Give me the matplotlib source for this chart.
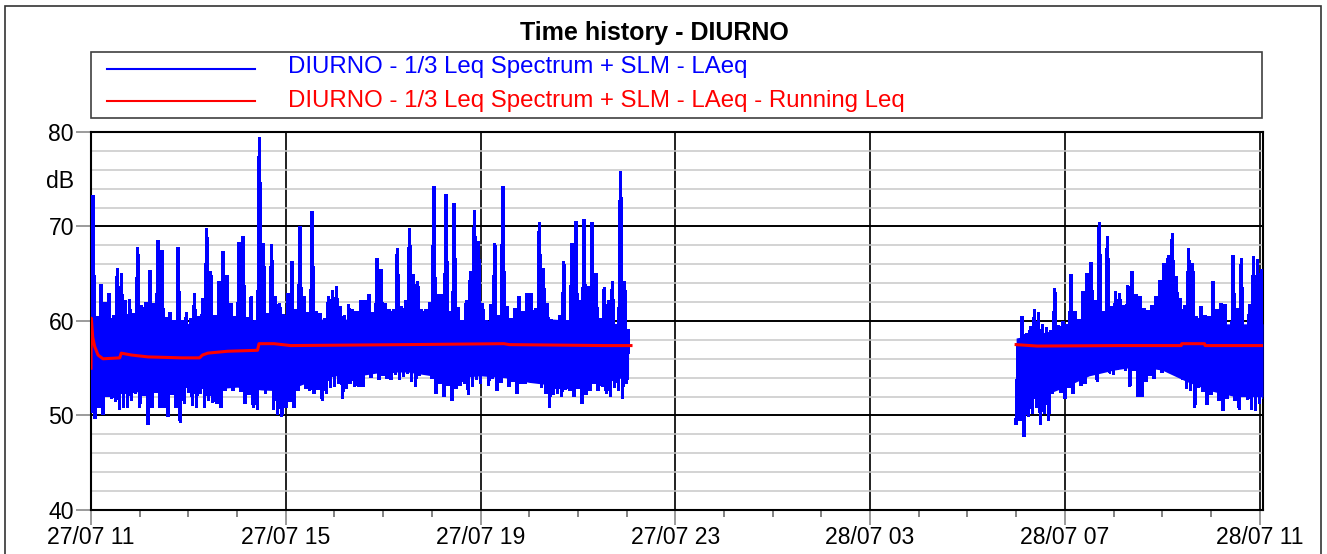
import numpy as np
import matplotlib
matplotlib.use('Agg')
import matplotlib.pyplot as plt
from matplotlib.ticker import MultipleLocator, FixedLocator
from matplotlib.patches import Rectangle
from matplotlib.lines import Line2D

plt.rcParams['font.family'] = ['Liberation Sans', 'DejaVu Sans']

# ---------------- data ----------------
title = 'Time history - DIURNO'
label_blue = 'DIURNO - 1/3 Leq Spectrum + SLM - LAeq'
label_red = 'DIURNO - 1/3 Leq Spectrum + SLM - LAeq - Running Leq'
x_tick_hours = [0, 4, 8, 12, 16, 20, 24]          # hours after 27/07 11:00
x_tick_labels = ['27/07 11', '27/07 15', '27/07 19', '27/07 23',
                 '28/07 03', '28/07 07', '28/07 11']
y_ticks = [40, 50, 60, 70, 80]

bin_hours = 5 / 60          # each LAeq bin: 5 minutes (min and max)
seg1_start = 0.0            # 27/07 11:00
seg2_start = 19.0           # 28/07 06:00

seg1_hi = [73.3, 60.5, 63.9, 62.0, 62.9, 60.6, 65.6, 65.0, 62.2, 62.3,
           60.8, 67.8, 61.6, 62.0, 65.3, 61.9, 68.5, 67.5, 60.4, 60.9,
           60.1, 67.8, 60.0, 60.9, 60.3, 62.9, 60.5, 62.4, 69.8, 65.2,
           60.6, 64.2, 67.3, 64.8, 61.9, 60.5, 68.3, 68.9, 60.4, 62.6,
           60.1, 79.4, 68.2, 60.8, 68.1, 62.6, 61.9, 60.7, 62.9, 66.3,
           61.2, 70.0, 62.6, 60.9, 71.6, 61.0, 60.8, 60.3, 62.6, 63.2,
           63.7, 61.5, 60.6, 61.7, 61.2, 61.0, 62.2, 62.2, 62.8, 60.9,
           66.6, 65.5, 61.9, 61.2, 61.2, 67.7, 61.5, 62.2, 69.8, 64.9,
           64.2, 61.2, 61.2, 62.0, 74.2, 62.8, 62.8, 73.4, 61.0, 72.4,
           61.4, 60.1, 62.2, 65.2, 71.7, 68.4, 61.9, 60.0, 61.7, 68.2,
           60.6, 74.2, 61.5, 60.3, 61.3, 62.6, 61.0, 62.9, 62.9, 61.3,
           70.4, 65.6, 61.9, 60.2, 59.0, 60.6, 66.3, 60.1, 68.2, 70.5,
           62.2, 70.7, 63.6, 70.4, 65.0, 60.3, 63.5, 62.2, 64.2, 59.6,
           75.8, 64.2, 59.0]
seg1_lo = [50.4, 49.7, 50.9, 50.1, 52.0, 51.8, 51.5, 50.6, 50.9, 50.8,
           51.6, 52.3, 50.9, 52.1, 49.0, 50.9, 52.4, 50.9, 50.8, 49.9,
           52.2, 50.8, 49.3, 51.3, 52.4, 51.1, 50.9, 52.3, 50.8, 51.6,
           51.4, 51.3, 50.8, 52.6, 53.0, 52.7, 53.2, 52.5, 51.3, 52.2,
           50.8, 50.6, 52.8, 52.3, 53.0, 50.6, 50.1, 49.9, 50.9, 51.5,
           50.8, 52.6, 53.4, 52.9, 52.7, 52.3, 52.8, 51.6, 52.3, 53.0,
           53.1, 53.4, 51.8, 52.9, 53.4, 53.1, 53.1, 53.1, 54.8, 54.0,
           54.8, 53.8, 54.2, 53.9, 53.8, 54.3, 53.8, 54.1, 54.4, 53.6,
           53.1, 54.2, 54.8, 54.8, 53.9, 52.3, 53.4, 52.0, 53.2, 51.6,
           52.9, 53.2, 53.4, 52.2, 53.1, 53.8, 53.4, 55.2, 53.2, 53.9,
           52.7, 53.5, 54.1, 53.1, 53.6, 52.3, 53.4, 53.4, 53.8, 53.8,
           53.9, 53.0, 52.3, 50.9, 52.2, 52.3, 52.0, 52.8, 52.7, 52.0,
           52.9, 51.3, 52.2, 52.6, 53.4, 52.7, 53.1, 52.3, 52.0, 53.0,
           52.7, 51.8, 53.4]

seg2_hi = [57.6, 60.5, 58.7, 59.4, 61.2, 60.9, 59.6, 59.3, 59.0, 63.4,
           59.5, 59.9, 59.6, 64.9, 61.0, 60.2, 63.1, 65.0, 66.2, 62.2,
           70.4, 61.0, 68.9, 61.5, 63.1, 62.9, 61.6, 63.8, 65.2, 62.8,
           62.6, 61.3, 61.1, 61.6, 62.6, 64.3, 66.1, 66.9, 69.3, 64.7,
           62.4, 61.6, 67.7, 66.1, 60.5, 61.5, 60.6, 60.5, 64.2, 61.2,
           61.9, 61.7, 58.9, 66.9, 61.3, 66.6, 59.3, 61.7, 66.8, 66.5,
           65.4, 62.0]
seg2_lo = [49.2, 49.5, 47.8, 49.9, 50.2, 50.9, 49.0, 50.2, 49.5, 52.3,
           53.0, 52.4, 51.8, 53.0, 52.3, 53.9, 53.2, 53.4, 54.6, 55.5,
           53.6, 55.0, 54.8, 54.5, 54.3, 54.9, 55.0, 54.8, 53.1, 54.8,
           52.0, 52.0, 53.6, 54.2, 53.9, 55.3, 54.6, 54.8, 55.0, 54.6,
           54.9, 53.8, 52.9, 52.7, 50.8, 53.0, 52.5, 51.2, 52.2, 52.6,
           51.6, 50.5, 51.8, 52.4, 51.6, 50.6, 52.0, 51.7, 50.6, 50.5,
           51.3, 51.8]

# dense core of the LAeq trace (half-hour readings of where the trace is solid)
core1_t = [0.0, 0.5, 1.0, 1.5, 2.0, 2.5, 3.0, 3.5, 4.0, 4.5, 5.0, 5.5,
           6.0, 6.5, 7.0, 7.5, 8.0, 8.5, 9.0, 9.5, 10.0, 10.5, 11.04]
core1_lo = [52.5, 52.6, 52.5, 52.8, 53.0, 52.8, 53.0, 52.7, 52.6, 53.6, 54.2, 54.2,
            54.6, 54.6, 54.2, 54.0, 54.2, 54.0, 53.5, 53.2, 53.5, 53.4, 54.2]
core1_hi = [59.2, 59.4, 59.5, 59.3, 59.7, 59.7, 60.0, 60.2, 60.0, 60.2, 60.2, 60.2,
            60.2, 60.4, 60.2, 60.0, 60.0, 60.2, 60.0, 60.2, 60.0, 59.7, 58.7]
core2_t = [19.0, 19.5, 20.0, 20.5, 21.0, 21.5, 22.0, 22.5, 23.0, 23.5, 24.0, 24.07]
core2_lo = [51.5, 52.0, 53.0, 54.2, 54.8, 55.2, 54.8, 53.6, 52.6, 52.0, 52.0, 52.0]
core2_hi = [58.2, 58.7, 59.3, 59.7, 60.2, 60.2, 60.2, 59.7, 59.7, 59.7, 59.7, 59.7]

# running Leq (hours after 27/07 11:00, dB)
red1_t = [0.0, 0.007, 0.035, 0.075, 0.144, 0.246, 0.59, 0.62, 0.83, 1.17,
          1.86, 2.23, 2.29, 2.40, 2.81, 3.42, 3.45, 3.76, 4.10, 6.45,
          8.48, 8.59, 10.54, 11.09]
red1_v = [55.0, 60.3, 58.3, 57.3, 56.4, 56.0, 56.1, 56.6, 56.4, 56.2,
          56.1, 56.1, 56.4, 56.6, 56.8, 56.9, 57.6, 57.6, 57.4, 57.5,
          57.6, 57.5, 57.4, 57.4]
red2_t = [19.0, 19.43, 21.14, 22.39, 22.40, 22.87, 22.88, 24.07]
red2_v = [57.5, 57.35, 57.4, 57.4, 57.6, 57.6, 57.4, 57.4]


def zigzag(start, lo, hi):
    n = len(lo)
    idx = np.arange(n)
    t = np.empty(2 * n)
    v = np.empty(2 * n)
    t[0::2] = start + idx * bin_hours
    t[1::2] = start + (idx + 0.5) * bin_hours
    v[0::2] = lo
    v[1::2] = hi
    return t, v


# ---------------- figure ----------------
W, H = 1327, 554
fig = plt.figure(figsize=(W / 100, H / 100), dpi=100)
ax = fig.add_axes([91 / W, 1 - 510 / H, (1263 - 91) / W, (510 - 132) / H])

BLUE = '#0000ff'
RED = '#ff0000'

for ct, clo, chi in [(core1_t, core1_lo, core1_hi), (core2_t, core2_lo, core2_hi)]:
    ax.fill_between(ct, clo, chi, color=BLUE, lw=0, zorder=3)

for start, lo, hi in [(seg1_start, seg1_lo, seg1_hi), (seg2_start, seg2_lo, seg2_hi)]:
    t, v = zigzag(start, lo, hi)
    ax.plot(t, v, color=BLUE, lw=1.8, solid_joinstyle='miter', antialiased=False,
            zorder=3)

ax.plot(red1_t, red1_v, color=RED, lw=2.2, zorder=4)
ax.plot(red2_t, red2_v, color=RED, lw=2.2, zorder=4)

ax.set_xlim(0, 24.07)
ax.set_ylim(40, 80)

ax.xaxis.set_major_locator(FixedLocator(x_tick_hours))
ax.set_xticklabels(x_tick_labels)
ax.xaxis.set_minor_locator(MultipleLocator(1))
ax.yaxis.set_major_locator(FixedLocator(y_ticks))
ax.yaxis.set_minor_locator(MultipleLocator(2))

ax.set_axisbelow(True)
ax.yaxis.grid(True, which='minor', color='#c8c8c8', lw=1.1)
ax.yaxis.grid(True, which='major', color='black', lw=1.4)
ax.xaxis.grid(True, which='major', color='#202020', lw=1.4)

ax.tick_params(axis='y', which='major', direction='out', length=10.8, width=1.1,
               color='#808080', pad=1.5, labelsize=16.6)
ax.tick_params(axis='y', which='minor', length=0)
ax.tick_params(axis='x', which='major', direction='out', length=10.8, width=1.1,
               color='#808080', pad=1.0, labelsize=16.6)
ax.tick_params(axis='x', which='minor', direction='out', length=5, width=1.1,
               color='#606060')
for sp in ax.spines.values():
    sp.set_color('black')
    sp.set_linewidth(1.5)

# dB unit label
fig.text(74 / W, 1 - 181 / H, 'dB', ha='right', va='center', fontsize=16.6)

# title
fig.text(654 / W, 1 - 40 / H, title, ha='center', va='baseline',
         fontsize=18, fontweight='bold')

# legend box
fig.add_artist(Rectangle((91 / W, 1 - 118 / H), (1262 - 91) / W, (118 - 52) / H,
                         transform=fig.transFigure, fill=False,
                         edgecolor='#404040', lw=1.2))
fig.add_artist(Line2D([107 / W, 255 / W], [1 - 68.5 / H] * 2,
                      transform=fig.transFigure, color=BLUE, lw=1.5))
fig.add_artist(Line2D([107 / W, 255 / W], [1 - 101 / H] * 2,
                      transform=fig.transFigure, color=RED, lw=1.5))
fig.text(288 / W, 1 - 73 / H, label_blue, color=BLUE, fontsize=17.3, va='baseline')
fig.text(288 / W, 1 - 107 / H, label_red, color=RED, fontsize=17.3, va='baseline')

# outer frame
fig.add_artist(Rectangle((5 / W, -0.05), (1321 - 5) / W, 1.05 - 6 / H,
                         transform=fig.transFigure, fill=False,
                         edgecolor='#333333', lw=1.2))

fig.savefig('out.png', dpi=100)
